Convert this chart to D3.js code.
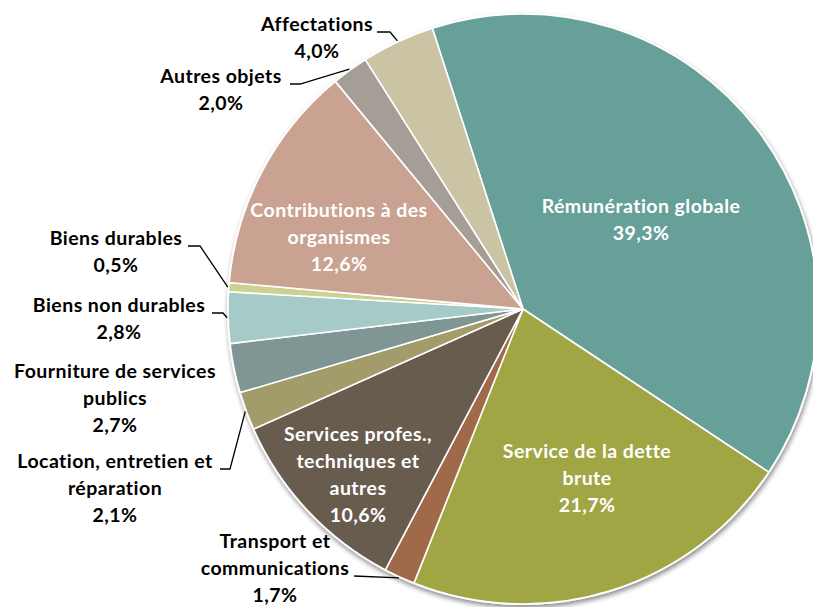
<!DOCTYPE html>
<html>
<head>
<meta charset="utf-8">
<script src="https://cdn.jsdelivr.net/npm/d3@7"></script>
<style>
    html, body { margin: 0; padding: 0; background: #fff; }
    svg { display: block; }
    text {
        font-family: Lato, "Open Sans", sans-serif;
        font-weight: bold;
        font-variant-ligatures: none;
        letter-spacing: 0.45px;
    }
</style>
</head>
<body>
<div id="chart"></div>
<script>
    'use strict';

    // data
    var categories = [
        'Rémunération globale', 'Service de la dette brute', 'Transport et communications',
        'Services profes., techniques et autres', 'Location, entretien et réparation',
        'Fourniture de services publics', 'Biens non durables', 'Biens durables',
        'Contributions à des organismes', 'Autres objets', 'Affectations'
    ];
    var shares = [39.3, 21.7, 1.7, 10.6, 2.1, 2.7, 2.8, 0.5, 12.6, 2.0, 4.0];
    var labelLines = [
        ['Rémunération globale'],
        ['Service de la dette', 'brute'],
        ['Transport et', 'communications'],
        ['Services profes.,', 'techniques et', 'autres'],
        ['Location, entretien et', 'réparation'],
        ['Fourniture de services', 'publics'],
        ['Biens non durables'],
        ['Biens durables'],
        ['Contributions à des', 'organismes'],
        ['Autres objets'],
        ['Affectations']
    ];
    var colors = ['#679f99', '#a1a644', '#a0694a', '#685c4f', '#a29b6a', '#7f9695',
        '#a6cac7', '#cad191', '#c9a292', '#a59e97', '#cac4a4'];

    // layout
    var width = 813, height = 607;
    var cx = 523, cy = 309, radius = 295;
    var startDeg = -17.9;
    var lineH = 27;
    var fontSize = 19.5;
    // label block: centre x, first baseline, inside?, leader [x start, x elbow, line index]
    var labelLayout = {
        0: {x: 641, y: 213, inside: true},
        1: {x: 587, y: 458, inside: true},
        2: {x: 275, y: 548, leader: [354, 354, 1]},
        3: {x: 358, y: 441, inside: true},
        4: {x: 115, y: 468, leader: [220, 230, 0]},
        5: {x: 115, y: 378},
        6: {x: 119, y: 312, leader: [212, 223, 0]},
        7: {x: 116, y: 245, leader: [188, 200, 0]},
        8: {x: 339, y: 217, inside: true},
        9: {x: 221, y: 83, leader: [290, 300, 0]},
        10: {x: 317, y: 31, leader: [377, 390, 0]}
    };

    var fmt = function(v) { return d3.format('.1f')(v).replace('.', ',') + '%'; };

    var svg = d3.select('#chart').append('svg')
        .attr('width', width)
        .attr('height', height);

    var defs = svg.append('defs');
    var shadow = defs.append('filter')
        .attr('id', 'shadow')
        .attr('x', '-10%').attr('y', '-10%')
        .attr('width', '120%').attr('height', '120%');
    shadow.append('feDropShadow')
        .attr('dx', 1).attr('dy', 3)
        .attr('stdDeviation', 2.5)
        .attr('flood-color', '#000')
        .attr('flood-opacity', 0.45);

    var pie = d3.pie()
        .sort(null)
        .value(function(d) { return d; })
        .startAngle(startDeg * Math.PI / 180)
        .endAngle(startDeg * Math.PI / 180 + 2 * Math.PI);

    var arc = d3.arc().innerRadius(0).outerRadius(radius);
    var arcs = pie(shares);

    var g = svg.append('g').attr('transform', 'translate(' + cx + ',' + cy + ')');

    // white disc carrying the drop shadow
    g.append('circle')
        .attr('r', radius + 1)
        .attr('fill', '#fff')
        .attr('filter', 'url(#shadow)');

    g.selectAll('path.slice')
        .data(arcs)
        .enter().append('path')
        .attr('class', 'slice')
        .attr('d', arc)
        .attr('fill', function(d, i) { return colors[i]; })
        .attr('stroke', '#fff')
        .attr('stroke-width', 1.6)
        .attr('stroke-linejoin', 'round');

    // leader lines
    arcs.forEach(function(d, i) {
        var lay = labelLayout[i];
        if (!lay.leader) {
            return;
        }
        var a = (d.startAngle + d.endAngle) / 2;
        var px = cx + (radius + 1) * Math.sin(a);
        var py = cy - (radius + 1) * Math.cos(a);
        var ly = lay.y + lay.leader[2] * lineH + 1;
        var path = d3.path();
        path.moveTo(lay.leader[0], ly);
        path.lineTo(lay.leader[1], ly);
        path.lineTo(px, py);
        svg.append('path')
            .attr('d', path.toString())
            .attr('fill', 'none')
            .attr('stroke', '#000')
            .attr('stroke-width', 1.3);
    });

    // labels
    arcs.forEach(function(d, i) {
        var lay = labelLayout[i];
        var lines = labelLines[i].concat([fmt(shares[i])]);
        var t = svg.append('text')
            .attr('text-anchor', 'middle')
            .attr('font-size', fontSize)
            .attr('fill', lay.inside ? '#fff' : '#000');
        lines.forEach(function(s, k) {
            t.append('tspan')
                .attr('x', lay.x)
                .attr('y', lay.y + k * lineH)
                .text(s);
        });
    });
</script>
</body>
</html>
